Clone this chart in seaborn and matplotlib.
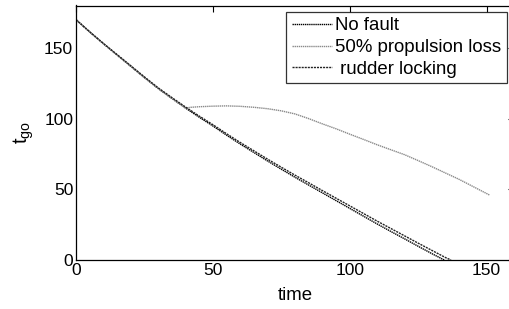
import pandas as pd
import seaborn as sns
import matplotlib.pyplot as plt

# values
t_main = [0, 5, 10, 15, 20, 25, 30, 35, 40, 45, 50, 55, 60, 65, 70, 75, 80, 85,
          90, 95, 100, 105, 110, 115, 120, 125, 130, 134.5]
no_fault = [170, 161.3, 153, 145, 137, 129, 121.3, 114.3, 107.5, 101, 94.8, 88.3,
            82, 76, 70, 64.2, 58.5, 53, 47.5, 42, 36.5, 31, 25.5, 20.2, 15, 9.7, 4.5, 0]

t_rudder = [0, 5, 10, 15, 20, 25, 30, 35, 40, 45, 50, 55, 60, 65, 70, 75, 80, 85,
            90, 95, 100, 105, 110, 115, 120, 125, 130, 135, 137]
rudder = [170, 161.4, 153.2, 145.3, 137.4, 129.5, 121.8, 114.9, 108.2, 101.8, 95.7,
          89.3, 83.1, 77.2, 71.3, 65.6, 60, 54.6, 49.1, 43.7, 38.3, 32.9, 27.5, 22.3,
          17.1, 11.9, 6.8, 1.7, 0]

t_prop = [0, 5, 10, 15, 20, 25, 30, 35, 40, 42, 45, 50, 55, 60, 65, 70, 75, 80, 85,
          90, 95, 100, 105, 110, 115, 120, 125, 130, 135, 140, 145, 150, 151]
prop = [170, 161.3, 153, 145, 137, 129, 121.3, 114.3, 107.5, 108, 108.4, 108.8, 109,
        108.7, 108, 107, 105.5, 103.3, 100, 96.3, 92.8, 89, 85.3, 81.5, 78, 74.5,
        70.3, 66, 61.5, 57, 52, 47, 46]

labels = ['No fault', '50% propulsion loss', ' rudder locking']

sns.set_style('white')
plt.rcParams['font.family'] = ['Liberation Sans', 'DejaVu Sans']
plt.rcParams['mathtext.fontset'] = 'custom'
plt.rcParams['mathtext.rm'] = 'Liberation Sans'
plt.rcParams['mathtext.it'] = 'Liberation Sans'
plt.rcParams['text.color'] = 'black'
plt.rcParams['axes.labelcolor'] = 'black'
plt.rcParams['xtick.color'] = 'black'
plt.rcParams['ytick.color'] = 'black'

fig = plt.figure(figsize=(5.1, 3.09), dpi=100)
ax = fig.add_axes([76 / 510, 49 / 309, 438 / 510, 254.5 / 309])

d1 = pd.DataFrame({'x': t_main, 'y': no_fault})
d2 = pd.DataFrame({'x': t_prop, 'y': prop})
d3 = pd.DataFrame({'x': t_rudder, 'y': rudder})

sns.lineplot(data=d1, x='x', y='y', ax=ax, color='black', lw=1.0, ls=(0, (1, 0.5)), label=labels[0])
sns.lineplot(data=d2, x='x', y='y', ax=ax, color='#8a8a8a', lw=1.0, ls=(0, (1, 0.5)), label=labels[1])
sns.lineplot(data=d3, x='x', y='y', ax=ax, color='#222222', lw=1.0, ls=(0, (1.5, 0.7)), label=labels[2])

ax.set_xlim(0, 160)
ax.set_ylim(0, 180)
ax.set_xticks([0, 50, 100, 150])
ax.set_yticks([0, 50, 100, 150])
ax.tick_params(direction='in', top=True, right=True, length=4, width=0.8,
               labelsize=12.5, pad=2, colors='black')
for s in ax.spines.values():
    s.set_color('black')
    s.set_linewidth(0.9)

ax.set_xlabel('time', fontsize=13.4, labelpad=7, color='black')
ax.set_ylabel(r'$\mathrm{t_{go}}$', fontsize=14.5, labelpad=6, color='black')

leg = ax.legend(loc='upper right', bbox_to_anchor=(431 / 438, 0.975), fontsize=13.4,
                frameon=True, fancybox=False, edgecolor='black', handlelength=2.15,
                handletextpad=0.2, borderpad=0.3, labelspacing=0.25, borderaxespad=0)
leg.get_frame().set_linewidth(0.9)
for txt in leg.get_texts():
    txt.set_color('black')

fig.savefig('out.png', dpi=100)
